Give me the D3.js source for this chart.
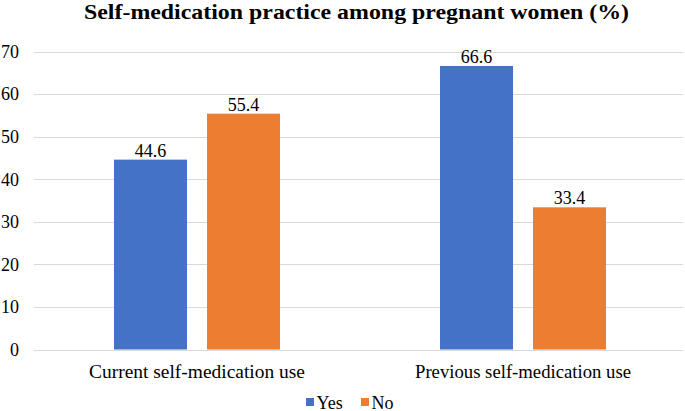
<!DOCTYPE html>
<html><head><meta charset="utf-8">
<script src="https://cdn.jsdelivr.net/npm/d3@7"></script>
<style>body{margin:0;background:#fff}svg{display:block}
svg text{font-family:"Liberation Serif","Times New Roman","DejaVu Serif",serif;}</style>
</head><body>
<svg id="chart" width="685" height="411"></svg>
<script>
const categories = ["Current self-medication use", "Previous self-medication use"];
const seriesNames = ["Yes", "No"];
const yesValues = [44.6, 66.6];
const noValues = [55.4, 33.4];
const yTicks = [0, 10, 20, 30, 40, 50, 60, 70];
const colors = ["#4472C4", "#ED7D31"];

(function () {
const svg = d3.select("#chart");
const pLeft = 34, pRight = 686, pTop = 51.5, pBottom = 349.5;
const fs = 18;

const x = d3.scaleBand().domain(categories).range([pLeft, pRight]).padding(0);
const x1 = d3.scaleBand().domain(seriesNames).range([80, 246]).paddingInner(0.215).paddingOuter(0);
const y = d3.scaleLinear().domain([0, 70]).range([pBottom, pTop]);

svg.append("text").attr("x", 84).attr("y", 19)
  .attr("textLength", 545).attr("lengthAdjust", "spacingAndGlyphs")
  .attr("font-weight", "bold").attr("font-size", 21)
  .attr("fill", "#000").text("Self-medication practice among pregnant women (%)");

svg.append("g").selectAll("line").data(yTicks).join("line")
  .attr("x1", pLeft).attr("x2", 683).attr("y1", d => Math.round(y(d)) + 0.5).attr("y2", d => Math.round(y(d)) + 0.5)
  .attr("stroke", "#d9d9d9").attr("stroke-width", 1);

svg.append("g").selectAll("text").data(yTicks).join("text")
  .attr("x", 19).attr("y", d => y(d)).attr("dy", "0.35em").attr("text-anchor", "end")
  .attr("font-size", fs).attr("fill", "#000").text(d => d);

const rows = categories.map((c, i) => ({cat: c, vals: [yesValues[i], noValues[i]]}));
const g = svg.append("g").selectAll("g").data(rows).join("g")
  .attr("transform", d => `translate(${x(d.cat)},0)`);
g.selectAll("rect").data(d => d.vals.map((v, j) => ({v, s: seriesNames[j], j}))).join("rect")
  .attr("x", d => x1(d.s)).attr("width", x1.bandwidth())
  .attr("y", d => y(d.v)).attr("height", d => y(0) - y(d.v))
  .attr("fill", d => colors[d.j]);
g.selectAll("text").data(d => d.vals.map((v, j) => ({v, s: seriesNames[j], j}))).join("text")
  .attr("x", d => x1(d.s) + x1.bandwidth() / 2).attr("y", d => y(d.v) - 3)
  .attr("text-anchor", "middle").attr("font-size", fs).attr("fill", "#000")
  .text(d => d.v.toFixed(1));

svg.append("g").selectAll("text").data(categories).join("text")
  .attr("x", d => x(d) + x.bandwidth() / 2).attr("y", 378).attr("text-anchor", "middle")
  .attr("textLength", 216).attr("lengthAdjust", "spacingAndGlyphs")
  .attr("font-size", 18.5).attr("fill", "#000").text(d => d);

const legendX = [306, 361];
const lg = svg.append("g").selectAll("g").data(seriesNames).join("g")
  .attr("transform", (d, i) => `translate(${legendX[i]},0)`);
lg.append("rect").attr("x", 0).attr("y", 398).attr("width", 8).attr("height", 8).attr("fill", (d, i) => colors[i]);
lg.append("text").attr("x", 10.5).attr("y", 408.5).attr("font-size", fs).attr("fill", "#000").text(d => d);
})();
</script>
</body></html>
